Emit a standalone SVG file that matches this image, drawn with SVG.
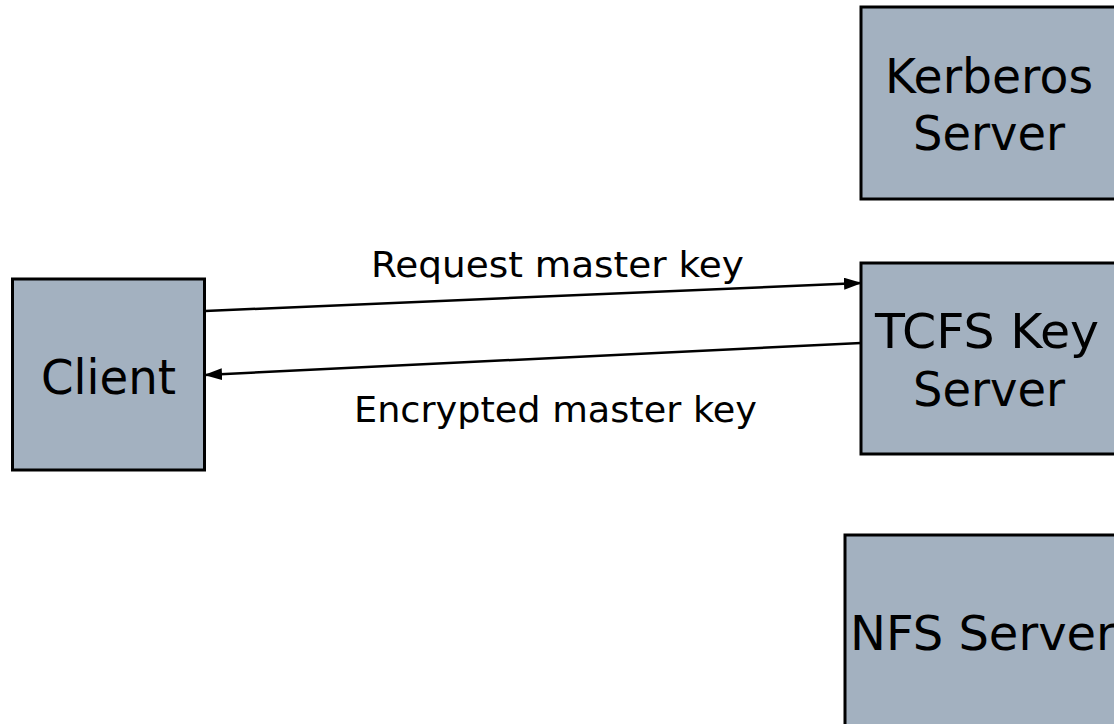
<svg xmlns="http://www.w3.org/2000/svg" width="1114" height="724" viewBox="0 0 1114 724">
<style>
.box{fill:#a3b1c0;stroke:#000;stroke-width:3}
.big{font-family:"DejaVu Sans",Verdana,sans-serif;font-size:48px;fill:#000}
.lbl{font-family:"DejaVu Sans",Verdana,sans-serif;font-size:35px;fill:#000}
.conn{stroke:#000;stroke-width:2.5;fill:none}
</style>
<defs>
<marker id="arrow" viewBox="0 0 18 12" refX="17" refY="6" markerWidth="18" markerHeight="12" markerUnits="userSpaceOnUse" orient="auto">
<path d="M0,0 L18,6 L0,12 z" fill="#000"/>
</marker>
</defs>
<rect width="1114" height="724" fill="#fff"/>
<g id="kerberos">
<rect class="box" x="861" y="7" width="270" height="192"/>
<text class="big"><tspan x="885" y="93" textLength="208" lengthAdjust="spacingAndGlyphs">Kerberos</tspan><tspan x="913" y="150" textLength="152" lengthAdjust="spacingAndGlyphs">Server</tspan></text>
</g>
<g id="tcfs">
<rect class="box" x="861" y="263" width="270" height="191"/>
<text class="big"><tspan x="875" y="348" textLength="224" lengthAdjust="spacingAndGlyphs">TCFS Key</tspan><tspan x="913" y="406" textLength="152" lengthAdjust="spacingAndGlyphs">Server</tspan></text>
</g>
<g id="client">
<rect class="box" x="12.5" y="279" width="192" height="191"/>
<text class="big" x="41" y="394" font-size="49" textLength="135" lengthAdjust="spacingAndGlyphs">Client</text>
</g>
<g id="nfs">
<rect class="box" x="845" y="535" width="290" height="210"/>
<text class="big" x="850" y="650">NFS Server</text>
</g>
<g id="connectors">
<line class="conn" x1="205" y1="311" x2="861" y2="283" marker-end="url(#arrow)"/>
<text class="lbl" x="371" y="277" textLength="373" lengthAdjust="spacingAndGlyphs">Request master key</text>
<line class="conn" x1="861" y1="343" x2="205" y2="375" marker-end="url(#arrow)"/>
<text class="lbl" x="354" y="422" textLength="403" lengthAdjust="spacingAndGlyphs">Encrypted master key</text>
</g>
</svg>
